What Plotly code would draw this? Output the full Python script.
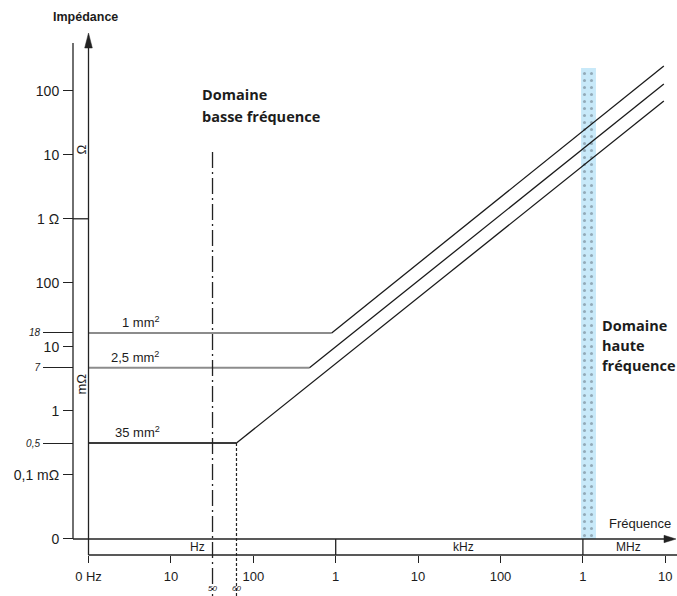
import math
import plotly.graph_objects as go

W, H = 677, 596

# ---------------- data ----------------
sections = ["1 mm<sup>2</sup>", "2,5 mm<sup>2</sup>", "35 mm<sup>2</sup>"]
start_hz = [1, 1, 1]
plateau_ohm = [0.0165, 0.0047, 0.000315]
corner_hz = [894, 481, 62.5]
end_hz = [9.6e6, 9.6e6, 9.6e6]
end_ohm = [243, 127, 69]
plateau_labels = ["18", "7", "0,5"]

freq_ticks = [1, 10, 100, 1e3, 1e4, 1e5, 1e6, 1e7]
freq_ticktext = ["0 Hz", "10", "100", "1", "10", "100", "1", "10"]
unit_names = ["Hz", "kHz", "MHz"]
unit_bounds_hz = [1e3, 1e6]

imp_ticks = [100, 10, 1, 0.1, 0.01, 1e-3, 1e-4, 1e-5]
imp_ticktext = ["100", "10", "1 Ω", "100", "10", "1", "0,1 mΩ", "0"]

mains_hz = [32, 62.5]
mains_labels = ["50", "60"]

hf_band_hz = [0.95e6, 1.44e6]
hf_band_top_ohm = 226

# ---------------- pixel helpers for decorations ----------------
X0PX, XDEC = 88.5, 82.4      # 1 Hz at x=88.5 px, 82.4 px per decade
Y100, YDEC = 90.7, 64.04     # 100 ohm at y=90.7 px, 64.04 px per decade

xr = [(0 - X0PX) / XDEC, (W - X0PX) / XDEC]
yr = [2 - (H - Y100) / YDEC, 2 + Y100 / YDEC]


def fx(px):
    return 10 ** ((px - X0PX) / XDEC)


def PX(px):
    return px / W


def PY(py):
    return 1 - py / H


FONT = "Liberation Sans"
BOLDF = "Open Sans"
TXT = "#1c1c1c"
AX = "#222222"

fig = go.Figure()

# High-frequency band
bx0, bx1 = hf_band_hz
ybot = imp_ticks[-1]
fig.add_trace(go.Scatter(
    x=[bx0, bx1, bx1, bx0, bx0],
    y=[ybot, ybot, hf_band_top_ohm, hf_band_top_ohm, ybot],
    mode="none", fill="toself", fillcolor="#c8e9f9",
    fillpattern=dict(shape=".", fgcolor="#5d6c78", bgcolor="#c8e9f9",
                     size=7, solidity=0.15),
    hoverinfo="skip", showlegend=False))

plateau_colors = ["#8c8c8c", "#8c8c8c", "#3a3a3a"]
for i in range(len(sections)):
    fig.add_trace(go.Scatter(
        x=[start_hz[i], corner_hz[i]], y=[plateau_ohm[i], plateau_ohm[i]],
        mode="lines", line=dict(color=plateau_colors[i], width=2),
        hoverinfo="skip", showlegend=False))
    fig.add_trace(go.Scatter(
        x=[corner_hz[i], end_hz[i]], y=[plateau_ohm[i], end_ohm[i]],
        mode="lines", line=dict(color="#1a1a1a", width=1.3),
        hoverinfo="skip", showlegend=False))

# invisible trace carrying the secondary y axis (special ticks)
fig.add_trace(go.Scatter(x=[1], y=[plateau_ohm[0]], yaxis="y2", mode="markers",
                         marker=dict(opacity=0), hoverinfo="skip", showlegend=False))

shapes = []
lw = 1.3
# left tick axis
shapes.append(dict(type="line", xref="paper", yref="paper", x0=PX(73), x1=PX(73),
                   y0=PY(43), y1=PY(539), line=dict(color=AX, width=lw)))
# arrow vertical axis
shapes.append(dict(type="line", xref="paper", yref="paper", x0=PX(X0PX), x1=PX(X0PX),
                   y0=PY(555), y1=PY(45), line=dict(color=AX, width=lw)))
shapes.append(dict(type="path", xref="paper", yref="paper",
                   path=f"M {PX(X0PX)},{PY(33)} L {PX(X0PX-3.8)},{PY(48)} L {PX(X0PX+3.8)},{PY(48)} Z",
                   fillcolor=AX, line=dict(color=AX, width=0.5)))
# horizontal arrow axis
shapes.append(dict(type="line", xref="paper", yref="paper", x0=PX(73), x1=PX(668),
                   y0=PY(539), y1=PY(539), line=dict(color=AX, width=lw)))
shapes.append(dict(type="path", xref="paper", yref="paper",
                   path=f"M {PX(676)},{PY(539)} L {PX(664)},{PY(535.3)} L {PX(664)},{PY(542.7)} Z",
                   fillcolor=AX, line=dict(color=AX, width=0.5)))
# unit band bottom line
shapes.append(dict(type="line", xref="paper", yref="paper", x0=PX(X0PX), x1=1,
                   y0=PY(555), y1=PY(555), line=dict(color=AX, width=lw)))
# unit separators
for b in unit_bounds_hz:
    shapes.append(dict(type="line", xref="x", yref="paper", x0=b, x1=b,
                       y0=PY(539), y1=PY(555), line=dict(color=AX, width=lw)))
# 1 ohm tick extension
shapes.append(dict(type="line", xref="paper", yref="y", x0=PX(73), x1=PX(X0PX),
                   y0=1, y1=1, line=dict(color=AX, width=lw)))
# mains frequency markers
shapes.append(dict(type="line", xref="x", yref="paper", x0=mains_hz[0], x1=mains_hz[0],
                   y0=PY(152), y1=0,
                   line=dict(color=AX, width=1.3, dash="16px,4px,2px,4px")))
shapes.append(dict(type="line", xref="x", yref="y", x0=mains_hz[1], x1=mains_hz[1],
                   y0=plateau_ohm[2], y1=10 ** yr[0],
                   line=dict(color=AX, width=1.2, dash="3px,2px")))

ann = []


def text(x, y, t, size=12, bold=False, xanchor="left", family=FONT, angle=0,
         color=TXT, italic=False):
    s = t
    if bold:
        s = f"<b>{s}</b>"
    if italic:
        s = f"<i>{s}</i>"
    ann.append(dict(x=x, y=y, xref="paper", yref="paper", text=s, showarrow=False,
                    xanchor=xanchor, yanchor="middle", textangle=angle,
                    font=dict(family=family, size=size, color=color)))


text(PX(51), PY(17), "Impédance", size=12.5, bold=True)
text(PX(606.5), PY(523), "Fréquence", size=13)
text(PX(199.5), PY(95), "Domaine", size=14.5, bold=True, family=BOLDF)
text(PX(199.5), PY(116), "basse fréquence", size=14.5, bold=True, family=BOLDF)
text(PX(599.5), PY(325), "Domaine", size=14.5, bold=True, family=BOLDF)
text(PX(599.5), PY(345), "haute", size=14.5, bold=True, family=BOLDF)
text(PX(599.5), PY(366), "fréquence", size=14.5, bold=True, family=BOLDF)
text(PX(80.5), PY(150), "Ω", size=13, xanchor="center", angle=-90)
text(PX(80.5), PY(384), "mΩ", size=13, xanchor="center", angle=-90)

# unit names in band
unit_px = [197, 463, 628]
for name, upx in zip(unit_names, unit_px):
    text(PX(upx), PY(547), name, size=12, xanchor="center")

# mains labels at the very bottom
for f, lab in zip(mains_hz, mains_labels):
    ann.append(dict(x=math.log10(f), y=PY(595), xref="x", yref="paper", text=f"<i>{lab}</i>",
                    showarrow=False, xanchor="center", yanchor="bottom",
                    font=dict(family=FONT, size=8, color=TXT)))

# curve labels
label_px = [141, 135, 137]
for i, s in enumerate(sections):
    ann.append(dict(x=math.log10(fx(label_px[i])), y=math.log10(plateau_ohm[i]),
                    xref="x", yref="y", text=s, showarrow=False, xanchor="center",
                    yanchor="bottom", yshift=1,
                    font=dict(family=FONT, size=13, color=TXT)))

fig.update_layout(
    width=W, height=H, margin=dict(l=0, r=0, t=0, b=0),
    paper_bgcolor="white", plot_bgcolor="white", showlegend=False,
    shapes=shapes, annotations=ann,
    xaxis=dict(type="log", range=xr, anchor="free", position=PY(555),
               tickvals=freq_ticks, ticktext=freq_ticktext, ticks="outside",
               ticklen=7, tickwidth=1.3, tickcolor=AX, showline=False,
               showgrid=False, zeroline=False, ticklabelstandoff=2,
               tickfont=dict(family=FONT, size=13, color=TXT)),
    yaxis=dict(type="log", range=yr, anchor="free", position=PX(73), side="left",
               tickvals=imp_ticks, ticktext=imp_ticktext, ticks="outside",
               ticklen=10, tickwidth=1.3, tickcolor=AX, showline=False,
               showgrid=False, zeroline=False, ticklabelstandoff=1,
               tickfont=dict(family=FONT, size=14, color=TXT)),
    yaxis2=dict(type="log", range=yr, overlaying="y", anchor="free", position=PX(73),
                side="left", tickvals=plateau_ohm,
                ticktext=[f"<i>{t}</i>" for t in plateau_labels], ticks="outside",
                ticklen=30, tickwidth=1.3, tickcolor=AX, showline=False,
                showgrid=False, zeroline=False, ticklabelstandoff=1,
                tickfont=dict(family=FONT, size=10, color=TXT)),
)

fig.write_html("out.html", config={"displayModeBar": False},
               post_script="document.body.style.margin='0';document.body.style.overflow='hidden';")
